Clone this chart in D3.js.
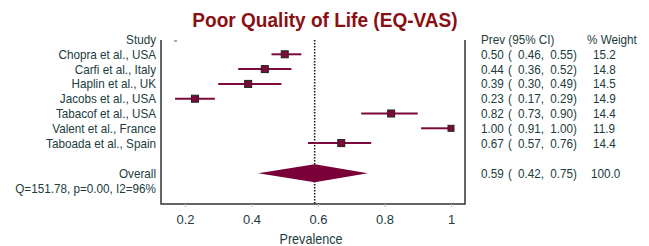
<!DOCTYPE html>
<html><head><meta charset="utf-8">
<script src="https://cdn.jsdelivr.net/npm/d3@7"></script>
<style>body{margin:0;background:#fff}svg{display:block}text{font-family:"Liberation Sans",Arial,sans-serif}</style>
</head><body><div id="c"></div>
<script>
const studies = ["Chopra et al., USA","Carfi et al., Italy","Haplin et al., UK","Jacobs et al., USA","Tabacof et al., USA","Valent et al., France","Taboada et al., Spain"];
const prev = [0.50,0.44,0.39,0.23,0.82,1.00,0.67];
const lower = [0.46,0.36,0.30,0.17,0.73,0.91,0.57];
const upper = [0.55,0.52,0.49,0.29,0.90,1.00,0.76];
const weights = [15.2,14.8,14.5,14.9,14.4,11.9,14.4];
const overall = {est:0.59, lo:0.42, hi:0.75, w:100.0};
const hetero = "Q=151.78, p=0.00, I2=96%";
const xTicks = [0.2,0.4,0.6,0.8,1];
const xTickLabels = ["0.2","0.4","0.6","0.8","1"];

(function(){
const W=649,H=246;
const txt="#203c40", mar="#7d0a3c";
const svg=d3.select("#c").append("svg").attr("width",W).attr("height",H);
const x=d3.scaleLinear().domain([0.2,1]).range([185,451]);
const y=d3.scaleLinear().domain([0,1]).range([39.5,54.3]);
const pL=161,pR=465,pT=40,pB=204;
const SX=0.9;
function T(p,xx,yy,s,anchor,size){
  return p.append("text").attr("transform",`translate(${xx},${yy}) scale(${SX},1)`)
    .attr("text-anchor",anchor||"start").attr("font-size",size||13).attr("fill",txt).text(s);
}

svg.append("text").attr("transform","translate(325,27) scale(0.93,1)").attr("text-anchor","middle")
  .attr("font-size",20.5).attr("font-weight","bold").attr("fill","#8a0f14").text("Poor Quality of Life (EQ-VAS)");

svg.append("path").attr("d",`M${pL},${pT}V${pB}H${pR}V${pT}`).attr("fill","none").attr("stroke","#333").attr("stroke-width",1.5);
svg.append("line").attr("x1",174).attr("x2",177).attr("y1",41).attr("y2",41).attr("stroke","#555");

const ax=svg.append("g").attr("transform",`translate(0,${pB})`)
  .call(d3.axisBottom(x).tickValues(xTicks).tickFormat((d,i)=>xTickLabels[i]).tickSize(3).tickPadding(8));
ax.select(".domain").remove();
ax.selectAll("line").attr("stroke","#bbb");
ax.selectAll("text").attr("font-size",13).attr("fill",txt).attr("font-family","Liberation Sans, Arial, sans-serif");
T(svg,311,244,"Prevalence","middle",14);

svg.append("line").attr("x1",x(overall.est)).attr("x2",x(overall.est)).attr("y1",pT).attr("y2",pB)
  .attr("stroke","#111").attr("stroke-width",1.5).attr("stroke-dasharray","1.5,1.5");

const lab=svg.append("g");
T(lab,156,y(0)+4.5,"Study","end");
studies.forEach((s,i)=>T(lab,156,y(i+1)+4.5,s,"end"));
const yo=y(9)+0.5;
T(lab,156,yo+4.5,"Overall","end");
T(lab,156,y(10)+0.5+4.5,hetero,"end");

const g=svg.append("g");
studies.forEach((s,i)=>{
  const yy=y(i+1);
  g.append("line").attr("x1",x(lower[i])).attr("x2",x(upper[i])).attr("y1",yy).attr("y2",yy).attr("stroke",mar).attr("stroke-width",2);
  const sz=i===5?6:7;
  g.append("rect").attr("x",x(prev[i])-sz/2).attr("y",yy-sz/2).attr("width",sz).attr("height",sz)
    .attr("fill",mar).attr("stroke","#222").attr("stroke-width",1);
});
g.append("path").attr("d",`M${x(overall.lo)},${yo}L${x(overall.est)},${yo-9}L${x(overall.hi)},${yo}L${x(overall.est)},${yo+9}Z`).attr("fill","#7a0038");

const f=d3.format(".2f");
const rc=svg.append("g");
T(rc,481,y(0)+4.5,"Prev (95% CI)");
T(rc,587,y(0)+4.5,"% Weight");
const rows=prev.map((p,i)=>({p,lo:lower[i],hi:upper[i],w:weights[i],yy:y(i+1)}));
rows.push({p:overall.est,lo:overall.lo,hi:overall.hi,w:overall.w,yy:yo});
rows.forEach(r=>{
  T(rc,481,r.yy+4.5,f(r.p));
  T(rc,508,r.yy+4.5,"(");
  T(rc,518,r.yy+4.5,f(r.lo)+",");
  T(rc,577,r.yy+4.5,f(r.hi)+")","end");
  T(rc,r.w===100?591:593,r.yy+4.5,r.w===100?"100.0":r.w.toFixed(1));
});
})();
</script></body></html>
